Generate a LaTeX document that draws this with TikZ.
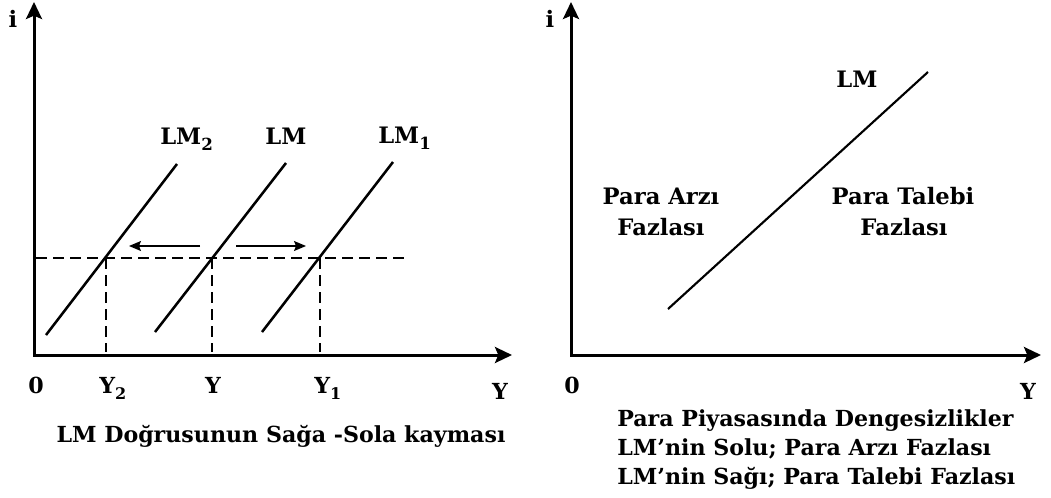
\documentclass[tikz,border=0pt]{standalone}
\usepackage{fontspec}
\setmainfont{DejaVu Serif}
\usetikzlibrary{arrows.meta}
\newcommand{\capsz}{\fontsize{16.6pt}{20pt}\selectfont\bfseries}
\newcommand{\lmsz}{\fontsize{17pt}{20pt}\selectfont\bfseries}
\newcommand{\regsz}{\fontsize{17pt}{22pt}\selectfont\bfseries}
\newcommand{\lmsub}[1]{\raisebox{-0.3em}{\fontsize{12.5pt}{14pt}\selectfont #1}}
\newcommand{\axsub}[1]{\raisebox{-0.3em}{\fontsize{12pt}{14pt}\selectfont #1}}
\tikzset{
  axisline/.style={line width=2.25pt,{Stealth[length=12.75pt,width=12pt,inset=2.5pt]}-{Stealth[length=12.75pt,width=12pt,inset=2.5pt]}},
  lmline/.style={line width=1.9pt},
  guide/.style={line width=1.1pt,dash pattern=on 8.25pt off 4.5pt},
  shiftarr/.style={line width=0.9pt,-{Stealth[length=9pt,width=7.5pt,inset=1.5pt]}},
  captxt/.style={font=\capsz,anchor=base,inner sep=0pt},
  lml/.style={font=\lmsz,anchor=base,inner sep=0pt},
  reg/.style={font=\regsz,anchor=base,inner sep=0pt,align=center},
}
\begin{document}
\begin{tikzpicture}[x=0.75pt,y=-0.75pt]
\useasboundingbox (0,0) rectangle (1051,497);
% ---------------- left panel ----------------
\coordinate (Ltop) at (34,2);
\coordinate (LO) at (34,355);
\coordinate (Lright) at (512,355);
\draw[axisline] (Ltop) -- (LO) -- (Lright);
\node[lml] (li) at (13,27) {i};
% LM lines
\coordinate (a1) at (46,335); \coordinate (a2) at (177,164);
\coordinate (b1) at (155,332); \coordinate (b2) at (286,163);
\coordinate (c1) at (262,332); \coordinate (c2) at (393,162);
\draw[lmline] (a1) -- (a2);
\draw[lmline] (b1) -- (b2);
\draw[lmline] (c1) -- (c2);
% intersections
\coordinate (pa) at (106,258);
\coordinate (pb) at (212,258);
\coordinate (pc) at (320,258);
\coordinate (hs) at (36,258);
\coordinate (he) at (408,258);
\draw[guide] (hs) -- (he);
\coordinate (qa) at (106,352);
\coordinate (qb) at (212,352);
\coordinate (qc) at (320,352);
\draw[guide] (pa) -- (qa);
\draw[guide] (pb) -- (qb);
\draw[guide] (pc) -- (qc);
% shift arrows
\coordinate (s1) at (200,246); \coordinate (e1) at (129,246);
\coordinate (s2) at (236,246); \coordinate (e2) at (306,246);
\draw[shiftarr] (s1) -- (e1);
\draw[shiftarr] (s2) -- (e2);
% labels
\node[lml,anchor=base west] (lm2) at (160,144) {LM\lmsub{2}};
\node[lml] (lm0) at (286,144) {LM};
\node[lml,anchor=base west] (lm1) at (378,143) {LM\lmsub{1}};
\node[captxt] (z1) at (36,393) {0};
\node[captxt,anchor=base west] (y2) at (99,393) {Y\axsub{2}};
\node[captxt] (y0) at (213,393) {Y};
\node[captxt,anchor=base west] (y1) at (314,393) {Y\axsub{1}};
\node[captxt] (yax1) at (500,399) {Y};
\node[captxt] (capL) at (281,442) {LM Doğrusunun Sağa -Sola kayması};
% ---------------- right panel ----------------
\coordinate (Rtop) at (571,2);
\coordinate (RO) at (571,355);
\coordinate (Rright) at (1041,355);
\draw[axisline] (Rtop) -- (RO) -- (Rright);
\node[lml] (ri) at (550,27) {i};
\coordinate (r1) at (668,309); \coordinate (r2) at (928,72);
\draw[lmline,line width=1.6pt] (r1) -- (r2);
\node[lml] (lmr) at (857,87) {LM};
\node[reg] (arz1) at (661,204) {Para Arzı};
\node[reg] (arz2) at (661,235) {Fazlası};
\node[reg] (tal1) at (903,204) {Para Talebi};
\node[reg] (tal2) at (904,235) {Fazlası};
\node[captxt] (z2) at (572,393) {0};
\node[captxt] (yax2) at (1028,399) {Y};
\node[captxt,anchor=base west] (c1t) at (617,426) {Para Piyasasında Dengesizlikler};
\node[captxt,anchor=base west] (c2t) at (617,455) {LM’nin Solu; Para Arzı Fazlası};
\node[captxt,anchor=base west] (c3t) at (617,484) {LM’nin Sağı; Para Talebi Fazlası};
\end{tikzpicture}
\end{document}
